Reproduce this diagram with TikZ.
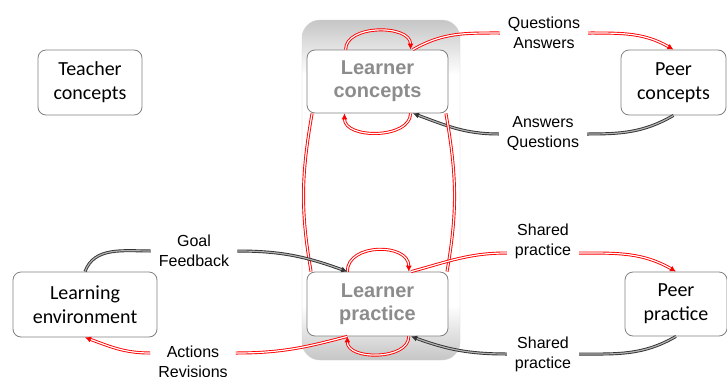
\documentclass[tikz,border=0pt]{standalone}
\usepackage{fontspec}
\setmainfont{Carlito}
\newfontfamily\arialfont{Liberation Sans}
\usetikzlibrary{arrows.meta}

% vertical fade for the learner frame (path is mapped to 25bp..75bp)
\pgfdeclareverticalshading{learnershade}{100bp}{color(0bp)=(gray!45); color(25bp)=(gray!45);
  color(33bp)=(white); color(67bp)=(white); color(75bp)=(gray!45); color(100bp)=(gray!45)}

\tikzset{
  box/.style={draw=black!50, line width=0.8pt, rounded corners=8pt, fill=white, align=center,
    inner sep=0pt, font=\fontsize{20}{24}\selectfont},
  learner/.style={box, text=black!45, font=\arialfont\bfseries\fontsize{20}{23}\selectfont},
  lbl/.style={fill=white, align=center, inner xsep=8pt, inner ysep=3pt,
    font=\arialfont\fontsize{16}{20}\selectfont},
  redline/.style={draw=red, line width=0.9pt, double=white, double distance=1.2pt},
  blackline/.style={draw=black!80, line width=0.9pt, double=gray!60, double distance=1.2pt},
  redarrow/.style={redline, -{Latex[length=6pt,width=6pt]}},
  blackarrow/.style={blackline, -{Latex[length=6pt,width=6pt]}}
}

\begin{document}
\begin{tikzpicture}[x=1pt, y=1pt]
    \useasboundingbox (0,0) rectangle (727,376);

    % frame round the learner
    \path [shading=learnershade, draw=gray!35, rounded corners=18pt] (302,16) rectangle (460,356);

    \node [box, minimum width=104pt, minimum height=65pt] (tc) at (90,293.5) {Teacher\\concepts};
    \node [learner, minimum width=141pt, minimum height=63pt] (lc) at (377.5,294.5) {Learner\\concepts};
    \node [learner, minimum width=141pt, minimum height=64pt] (lp) at (377.5,72) {Learner\\practice};
    \node [box, minimum width=105pt, minimum height=65pt] (pc) at (673.5,293.5) {Peer\\concepts};
    \node [box, minimum width=102pt, minimum height=64pt] (pp) at (676,72) {Peer\\practice};
    \node [box, minimum width=144pt, minimum height=65pt] (le) at (85,71.5) {Learning\\environment};

    \node [lbl] (qa)  at (544,343) {Questions\\Answers};
    \node [lbl] (aq)  at (543,242) {Answers\\Questions};
    \node [lbl] (spt) at (543,135) {Shared\\practice};
    \node [lbl] (spb) at (543,22)  {Shared\\practice};
    \node [lbl] (gf)  at (194,125) {Goal\\Feedback};
    \node [lbl] (ar)  at (193,14)  {Actions\\Revisions};

    % concepts
    \draw [redarrow] (lc.135) to [out=90,in=90] (lc.44);
    \draw [redarrow] (lc.-44) to [out=-90,in=-90] (lc.-136);
    \draw [redline] (lc.42) to [out=30,in=180] (qa.west);
    \draw [redarrow] (qa.east) to [out=0,in=150] (pc.north);
    \draw [blackline] (pc.south) to [out=210,in=0] (aq.east);
    \draw [blackarrow] (aq.west) to [out=180,in=-20] (lc.-42);

    % concepts <-> practice
    \draw [redline] (lc.206) to [out=-100,in=100] (lp.154);
    \draw [redline] (lc.-25) to [out=-80,in=80] (lp.25);

    % practice
    \draw [redarrow] (lp.133) to [out=90,in=90,looseness=1.2] (lp.46);
    \draw [redarrow] (lp.-46) to [out=-90,in=-90] (lp.-133);
    \draw [redline] (lp.44) to [out=15,in=180] ([yshift=-12pt]spt.west);
    \draw [redarrow] ([yshift=-12pt]spt.east) to [out=0,in=150] (pp.north);
    \draw [blackline] (pp.south) to [out=210,in=0] (spb.east);
    \draw [blackarrow] (spb.west) to [out=180,in=-20] (lp.-44);
    \draw [blackline] (le.north) to [out=70,in=180] (gf.west);
    \draw [blackarrow] (gf.east) to [out=0,in=160] (lp.133);
    \draw [redline] (lp.-133) to [out=195,in=0] ([yshift=9pt]ar.east);
    \draw [redarrow] ([yshift=9pt]ar.west) to [out=180,in=-20] (le.south);
\end{tikzpicture}
\end{document}
